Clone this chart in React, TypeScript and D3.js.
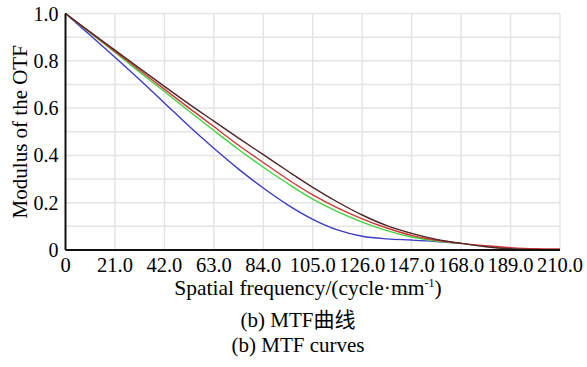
import * as d3 from "d3";

// spatial frequency samples (cycle/mm)
const FREQ = [0, 10.5, 21, 31.5, 42, 52.5, 63, 73.5, 84, 94.5, 105, 115.5, 126, 136.5, 147, 157.5, 168, 178.5, 189, 199.5, 210];

const BROWN = [1, 0.922, 0.845, 0.768, 0.692, 0.617, 0.545, 0.473, 0.403, 0.333, 0.265, 0.203, 0.148, 0.103, 0.07, 0.045, 0.028, 0.014, 0.005, 0.001, 0];
const RED = [1, 0.92, 0.84, 0.76, 0.68, 0.6, 0.522, 0.443, 0.37, 0.298, 0.233, 0.178, 0.132, 0.093, 0.062, 0.041, 0.028, 0.018, 0.01, 0.005, 0.004];
const GREEN = [1, 0.918, 0.836, 0.752, 0.67, 0.587, 0.505, 0.425, 0.35, 0.28, 0.215, 0.162, 0.118, 0.082, 0.055, 0.038, 0.028];
const BLUE = [1, 0.908, 0.815, 0.72, 0.622, 0.523, 0.43, 0.342, 0.262, 0.19, 0.13, 0.085, 0.058, 0.047, 0.042, 0.036, 0.028];

const X_TICKS = [0, 21, 42, 63, 84, 105, 126, 147, 168, 189, 210];
const Y_TICKS = [0, 0.2, 0.4, 0.6, 0.8, 1.0];
const Y_GRID = [0.1, 0.2, 0.3, 0.4, 0.5, 0.6, 0.7, 0.8, 0.9, 1.0];

const SERIES = [
  { name: "blue", values: BLUE, color: "#3b3bc4" },
  { name: "green", values: GREEN, color: "#3fd43f" },
  { name: "red", values: RED, color: "#cf3535" },
  { name: "brown", values: BROWN, color: "#5e2f2f" },
];

const FONT = "'Liberation Serif', 'Times New Roman', 'Noto Sans CJK SC', serif";

export default function App() {
  const width = 587;
  const height = 367;
  const margin = { left: 65.5, right: 27, top: 13.5, bottom: 117 };

  const x = d3.scaleLinear().domain([0, 210]).range([margin.left, width - margin.right]);
  const y = d3.scaleLinear().domain([0, 1]).range([height - margin.bottom, margin.top]);

  const line = d3
    .line<[number, number]>()
    .x((d) => x(d[0]))
    .y((d) => y(d[1]))
    .curve(d3.curveCatmullRom);

  const pts = (vals: number[]) => vals.map((v, i) => [FREQ[i], v] as [number, number]);

  return (
    <svg width={width} height={height} style={{ position: "absolute", left: 0, top: 0 }} fontFamily={FONT}>
      <rect width={width} height={height} fill="#fff" />
      {/* Grid */}
      {Y_GRID.map((v) => (
        <line key={"gy" + v} x1={x(0)} x2={x(210)} y1={y(v)} y2={y(v)} stroke="#e4e4e4" strokeWidth={1.5} />
      ))}
      {X_TICKS.slice(1).map((t) => (
        <line key={"gx" + t} x1={x(t)} x2={x(t)} y1={y(0)} y2={y(1)} stroke="#e4e4e4" strokeWidth={1.5} />
      ))}

      {/* Curves */}
      {SERIES.map((s) => (
        <path key={s.name} d={line(pts(s.values)) || ""} fill="none" stroke={s.color} strokeWidth={1.4} />
      ))}
      <path d={line(pts(BROWN)) || ""} fill="none" stroke="#000" strokeWidth={1} strokeDasharray="1 1.5" strokeOpacity={0.5} />

      {/* Axes */}
      <line x1={x(0)} x2={x(210)} y1={y(0)} y2={y(0)} stroke="#111" strokeWidth={2} />
      <line x1={x(0)} x2={x(0)} y1={y(0)} y2={y(1)} stroke="#111" strokeWidth={2} />

      {Y_TICKS.map((t) => (
        <text key={"yt" + t} x={x(0) - 7} y={y(t)} dy="0.35em" textAnchor="end" fontSize={20}>
          {t === 0 ? "0" : t.toFixed(1)}
        </text>
      ))}
      {X_TICKS.map((t) => (
        <text key={"xt" + t} x={x(t)} y={y(0) + 22} textAnchor="middle" fontSize={20.5}>
          {t === 0 ? "0" : t.toFixed(1)}
        </text>
      ))}

      <text transform={`translate(27, ${(y(0) + y(1)) / 2}) rotate(-90)`} textAnchor="middle" fontSize={21}>
        Modulus of the OTF
      </text>
      <text x={308} y={295} textAnchor="middle" fontSize={21.5}>
        Spatial frequency/(cycle·mm
        <tspan fontSize={12} dy={-8}>-1</tspan>
        <tspan dy={8}>)</tspan>
      </text>

      <text x={298} y={327} textAnchor="middle" fontSize={21}>
        (b) MTF曲线
      </text>
      <text x={298} y={352} textAnchor="middle" fontSize={21}>
        (b) MTF curves
      </text>
    </svg>
  );
}
